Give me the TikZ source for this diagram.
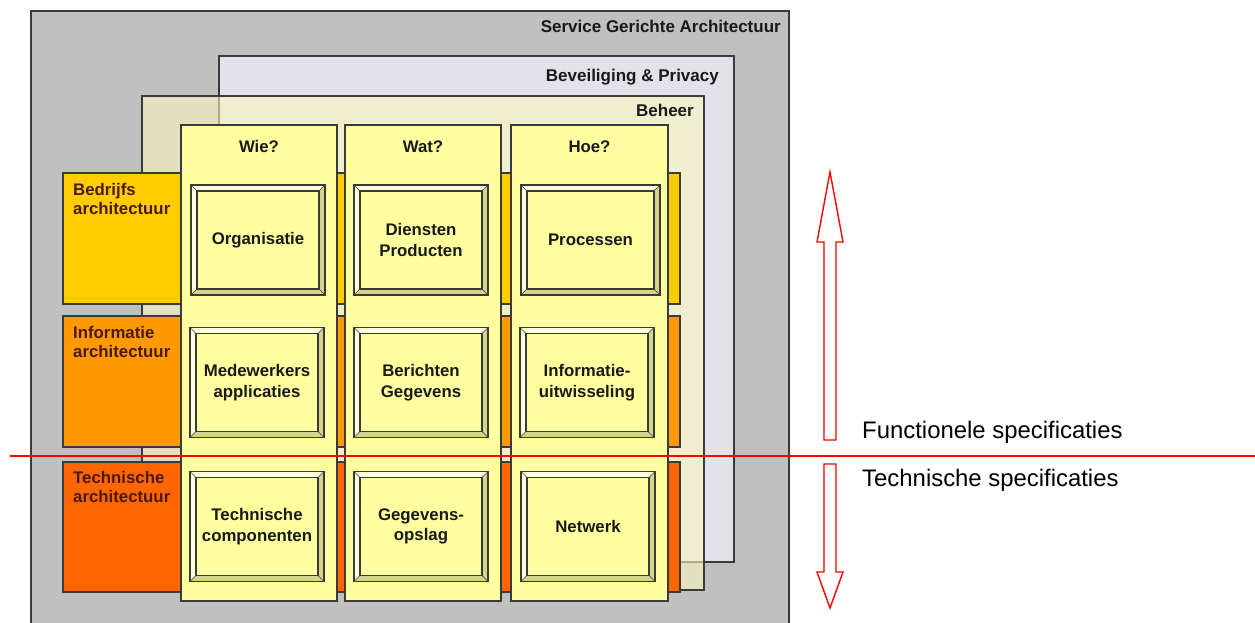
\documentclass[tikz,border=0pt]{standalone}
\usepackage{fontspec}
\setmainfont{Liberation Sans}
\usepackage{xcolor}
\usepackage{tikz}
\usetikzlibrary{positioning}
\definecolor{soagray}{HTML}{C0C0C0}
\definecolor{secgray}{HTML}{E2E2E8}
\definecolor{mgmtyellow}{HTML}{F8F8C0}
\definecolor{paleyellow}{HTML}{FFFFA0}
\definecolor{bevlight}{HTML}{FFFFE0}
\definecolor{bevdark}{HTML}{D4D48A}
\definecolor{edgegray}{HTML}{3A3A3A}
\definecolor{bizorange}{HTML}{FFCC00}
\definecolor{infoorange}{HTML}{FF9900}
\definecolor{techorange}{HTML}{FF6600}
\definecolor{rowtext}{HTML}{4A1A10}
\definecolor{specred}{HTML}{FF0000}
\tikzset{
    layer/.style = {rectangle, draw=edgegray, line width=1.2pt, inner sep=0pt, outer sep=0pt},
    rowbox/.style = {layer, minimum width=617pt, minimum height=131pt},
    colbox/.style = {layer, fill=paleyellow, minimum width=156pt, minimum height=476pt},
    cell/.style = {layer, fill=paleyellow, align=center, text=black!90,
        font=\fontsize{16.8}{20.5}\selectfont\bfseries,
        minimum width=134pt, minimum height=110pt,
        path picture={
            \path (path picture bounding box.north west) coordinate (pnw)
                  (path picture bounding box.north east) coordinate (pne)
                  (path picture bounding box.south east) coordinate (pse)
                  (path picture bounding box.south west) coordinate (psw)
                  ([shift={(6pt,-6pt)}]pnw) coordinate (qnw)
                  ([shift={(-6pt,-6pt)}]pne) coordinate (qne)
                  ([shift={(-6pt,6pt)}]pse) coordinate (qse)
                  ([shift={(6pt,6pt)}]psw) coordinate (qsw);
            \fill[bevlight] (pnw) -- (pne) -- (qne) -- (qnw) -- cycle;
            \fill[bevlight] (pnw) -- (qnw) -- (qsw) -- (psw) -- cycle;
            \fill[bevdark] (pne) -- (pse) -- (qse) -- (qne) -- cycle;
            \fill[bevdark] (psw) -- (qsw) -- (qse) -- (pse) -- cycle;
            \draw[edgegray, line width=1.3pt] (qnw) rectangle (qse);
            \draw[edgegray, line width=0.5pt] (pnw) -- (qnw) (pne) -- (qne) (pse) -- (qse) (psw) -- (qsw);
        }},
    hdr/.style = {anchor=base, inner sep=0pt, text=black!90, font=\fontsize{16.8}{20}\selectfont\bfseries},
    layertext/.style = {anchor=base east, inner sep=0pt, text=black!90, font=\fontsize{17}{20}\selectfont\bfseries},
    rowtext/.style = {anchor=north west, inner sep=0pt, align=left, text=rowtext, font=\fontsize{16.8}{19}\selectfont\bfseries},
    spectext/.style = {anchor=base west, inner sep=0pt, font=\fontsize{23.9}{28}\selectfont},
}

\begin{document}
\begin{tikzpicture}[
	x=1pt,
	y=-1pt
]
\tikzset{
    specarrow/.style = {draw=specred, line width=1.4pt, fill=white, line join=miter},
    specline/.style = {specred, line width=1.4pt},
}
\useasboundingbox (0,0) rectangle (1255,623);
% layers
\fill[soagray] (31,11) rectangle (789,623);
\draw[edgegray, line width=1.2pt] (31,623) -- (31,11) -- (789,11) -- (789,623);
\node[layer, fill=secgray, minimum width=515pt, minimum height=506pt] at (476.5,309) (sec) {};
\node[layer, fill=mgmtyellow, fill opacity=0.6, minimum width=562pt, minimum height=494pt] at (423,343) (mgmt) {};
\node[layertext] at (781,33) {Service Gerichte Architectuur};
\node[layertext] at (719,82) {Beveiliging \& Privacy};
\node[layertext] at (694,117) {Beheer};
%
\node[rowbox, fill=bizorange] at (371.5,238.5) (biz) {};
\node[rowbox, fill=infoorange] at (371.5,381.5) (info) {};
\node[rowbox, fill=techorange, minimum height=130pt] at (371.5,527) (tech) {};
\node[rowtext] at (73,183) {Bedrijfs\\architectuur};
\node[rowtext] at (73,326) {Informatie\\architectuur};
\node[rowtext] at (73,471) {Technische\\architectuur};
%
\node[colbox] at (259,363) (wie) {};
\node[colbox] at (423,363) (wat) {};
\node[colbox, minimum width=157pt] at (589.5,363) (hoe) {};
\node[hdr] at (259,152) {Wie?};
\node[hdr] at (423,152) {Wat?};
\node[hdr] at (589.5,152) {Hoe?};
%
\node[cell] at (258,240) (org) {Organisatie};
\node[cell] at (421,240) (dienst) {Diensten\\Producten};
\node[cell, minimum width=139pt] at (590.5,240) (proc) {Processen};
\node[cell] at (257,382.5) (medew) {Medewerkers\\applicaties};
\node[cell] at (421,382.5) (bericht) {Berichten\\Gegevens};
\node[cell] at (587,382.5) (uitw) {Informatie-\\uitwisseling};
\node[cell] at (257,526.5) (techc) {Technische\\componenten};
\node[cell] at (421,526.5) (opslag) {Gegevens-\\opslag};
\node[cell] at (588,526.5) (netw) {Netwerk};
%
\coordinate (splitL) at (10,456);
\coordinate (splitR) at (1255,456);
\draw[specline] (splitL) -- (splitR);
\draw[specarrow] (830,172) -- (843,242) -- (836,242) -- (836,440) -- (824,440) -- (824,242) -- (817,242) -- cycle;
\draw[specarrow] (830,608) -- (843,572) -- (836,572) -- (836,464) -- (824,464) -- (824,572) -- (817,572) -- cycle;
\node[spectext] at (862,438) {Functionele specificaties};
\node[spectext] at (862,486) {Technische specificaties};
\end{tikzpicture}
\end{document}
